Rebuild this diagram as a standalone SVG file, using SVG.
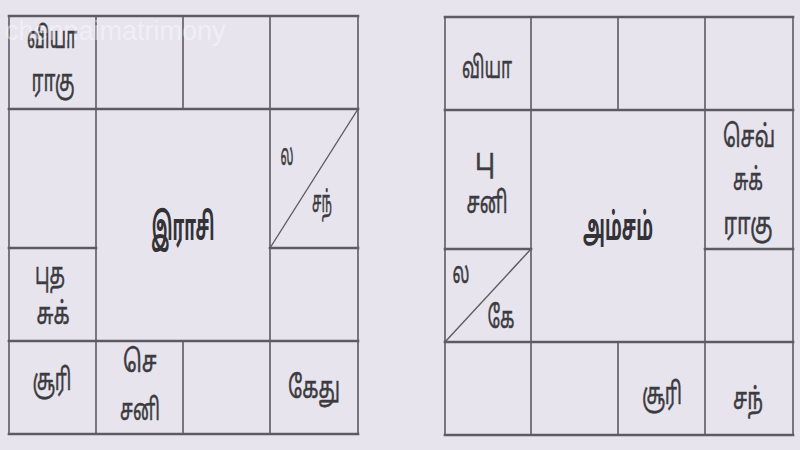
<svg xmlns="http://www.w3.org/2000/svg" width="800" height="450" viewBox="0 0 800 450">
<style>
.bg{fill:#e7e4ee}
.h{stroke:#5c5b60;stroke-width:2.6;fill:none;stroke-linecap:square}
.v{stroke:#5c5b60;stroke-width:1.6;fill:none}
.d{stroke:#5c5b60;stroke-width:1.4;fill:none}
.t{font-family:'Noto Sans Tamil','Lohit Tamil','Noto Sans',sans-serif;font-size:30px;fill:#3c3b40;stroke:#3c3b40;stroke-width:0.5;text-anchor:middle}
.c{font-family:'Noto Sans Tamil','Lohit Tamil','Noto Sans',sans-serif;font-size:38px;font-weight:bold;fill:#333236;text-anchor:middle}
.wm{font-family:'Liberation Sans',Arial,sans-serif;font-size:27px;fill:#ffffff;opacity:0.4}
</style>
<rect class="bg" x="0" y="0" width="800" height="450"/>
<g id="grid">
  <g id="rasi-grid">
    <line class="v" x1="9" y1="16" x2="9" y2="434"/>
    <line class="v" x1="358" y1="16" x2="358" y2="434"/>
    <line class="v" x1="96" y1="16" x2="96" y2="434"/>
    <line class="v" x1="270" y1="16" x2="270" y2="434"/>
    <line class="v" x1="183" y1="16" x2="183" y2="109"/>
    <line class="v" x1="183" y1="341" x2="183" y2="434"/>
    <line class="h" x1="9" y1="16" x2="358" y2="16"/>
    <line class="h" x1="9" y1="109" x2="358" y2="109"/>
    <line class="h" x1="9" y1="341" x2="358" y2="341"/>
    <line class="h" x1="9" y1="434" x2="358" y2="434"/>
    <line class="h" x1="9" y1="248" x2="96" y2="248"/>
    <line class="h" x1="270" y1="248" x2="358" y2="248"/>
  </g>
  <g id="amsam-grid">
    <line class="v" x1="445" y1="17" x2="445" y2="435"/>
    <line class="v" x1="793" y1="17" x2="793" y2="435"/>
    <line class="v" x1="531" y1="17" x2="531" y2="435"/>
    <line class="v" x1="705" y1="17" x2="705" y2="435"/>
    <line class="v" x1="618" y1="17" x2="618" y2="110"/>
    <line class="v" x1="618" y1="342" x2="618" y2="435"/>
    <line class="h" x1="445" y1="17" x2="793" y2="17"/>
    <line class="h" x1="445" y1="110" x2="793" y2="110"/>
    <line class="h" x1="445" y1="342" x2="793" y2="342"/>
    <line class="h" x1="445" y1="435" x2="793" y2="435"/>
    <line class="h" x1="445" y1="249" x2="531" y2="249"/>
    <line class="h" x1="705" y1="249" x2="793" y2="249"/>
  </g>
</g>
<g id="rasi">
  <g id="r-cell1"><text class="t" x="52" y="48" textLength="50" lengthAdjust="spacingAndGlyphs">வியா</text><text class="t" x="53" y="91" textLength="43" lengthAdjust="spacingAndGlyphs">ராகு</text></g>
  <g id="r-cell-lagna"><line class="d" x1="358" y1="109" x2="270" y2="248"/><text class="t" x="287" y="165" textLength="13" lengthAdjust="spacingAndGlyphs">ல</text><text class="t" x="322" y="212" textLength="20" lengthAdjust="spacingAndGlyphs">சந்</text></g>
  <g id="r-center"><text class="c" x="183" y="240" textLength="63" lengthAdjust="spacingAndGlyphs">இராசி</text></g>
  <g id="r-cell-puda"><text class="t" x="50" y="284" textLength="30" lengthAdjust="spacingAndGlyphs">புத</text><text class="t" x="53" y="324" textLength="33" lengthAdjust="spacingAndGlyphs">சுக்</text></g>
  <g id="r-cell-suri"><text class="t" x="52" y="390" textLength="39" lengthAdjust="spacingAndGlyphs">சூரி</text></g>
  <g id="r-cell-se"><text class="t" x="140" y="372" textLength="34" lengthAdjust="spacingAndGlyphs">செ</text><text class="t" x="140" y="420" textLength="40" lengthAdjust="spacingAndGlyphs">சனி</text></g>
  <g id="r-cell-ketu"><text class="t" x="314" y="398" textLength="52" lengthAdjust="spacingAndGlyphs">கேது</text></g>
</g>
<g id="amsam">
  <g id="a-cell1"><text class="t" x="487" y="78" textLength="50" lengthAdjust="spacingAndGlyphs">வியா</text></g>
  <g id="a-cell-pu"><text class="t" x="485" y="170" textLength="20" lengthAdjust="spacingAndGlyphs">பு</text><text class="t" x="487" y="213" textLength="41" lengthAdjust="spacingAndGlyphs">சனி</text></g>
  <g id="a-center"><text class="c" x="618" y="240" textLength="70" lengthAdjust="spacingAndGlyphs">அம்சம்</text></g>
  <g id="a-cell-sev"><text class="t" x="749" y="147" textLength="52" lengthAdjust="spacingAndGlyphs">செவ்</text><text class="t" x="748" y="190" textLength="30" lengthAdjust="spacingAndGlyphs">சுக்</text><text class="t" x="748" y="234" textLength="49" lengthAdjust="spacingAndGlyphs">ராகு</text></g>
  <g id="a-cell-lagna"><line class="d" x1="531" y1="249" x2="445" y2="342"/><text class="t" x="461" y="283" textLength="17" lengthAdjust="spacingAndGlyphs">ல</text><text class="t" x="501" y="328" textLength="27" lengthAdjust="spacingAndGlyphs">கே</text></g>
  <g id="a-cell-suri"><text class="t" x="662" y="404" textLength="40" lengthAdjust="spacingAndGlyphs">சூரி</text></g>
  <g id="a-cell-san"><text class="t" x="748" y="409" textLength="30" lengthAdjust="spacingAndGlyphs">சந்</text></g>
</g>
<text class="wm" x="5" y="40">chennaimatrimony</text>
</svg>
